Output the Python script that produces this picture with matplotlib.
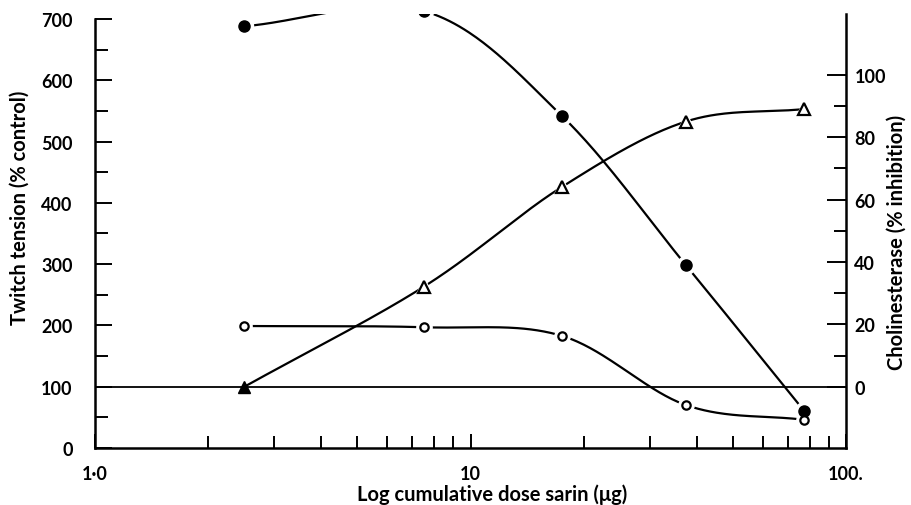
import numpy as np
import matplotlib
matplotlib.use("Agg")
import matplotlib.pyplot as plt
from matplotlib.ticker import FixedLocator, FixedFormatter, NullFormatter

plt.rcParams['font.family'] = ['Lato', 'DejaVu Sans']
plt.rcParams['font.weight'] = 'bold'

# ---- data ----
dose = [2.5, 7.5, 17.5, 37.5, 77.5]              # cumulative dose sarin (ug)
twitch_filled = [688, 713, 542, 298, 60]          # twitch tension, filled circles (% control)
twitch_open = [199, 197, 183, 70, 46]             # twitch tension, open circles (% control)
chol_inhib = [0, 32, 64, 85, 89]                  # cholinesterase (% inhibition), triangles
control_level = 100

x_tick_vals = [1, 10, 100]
x_tick_labels = ["1·0", "10", "100."]
left_ticks = [0, 100, 200, 300, 400, 500, 600, 700]
right_ticks = [0, 20, 40, 60, 80, 100]


def catmull_rom(xs, ys, n=60):
    P = np.column_stack([np.log10(np.asarray(xs, float)), np.asarray(ys, float)])
    pts = np.vstack([2 * P[0] - P[1], P, 2 * P[-1] - P[-2]])
    t = np.linspace(0, 1, n)[:, None]
    segs = []
    for i in range(1, len(pts) - 2):
        p0, p1, p2, p3 = pts[i - 1], pts[i], pts[i + 1], pts[i + 2]
        seg = 0.5 * (2 * p1 + (-p0 + p2) * t + (2 * p0 - 5 * p1 + 4 * p2 - p3) * t ** 2
                     + (-p0 + 3 * p1 - 3 * p2 + p3) * t ** 3)
        segs.append(seg if i == 1 else seg[1:])
    out = np.vstack(segs)
    return 10 ** out[:, 0], out[:, 1]


fig = plt.figure(figsize=(9.11, 5.06), dpi=100)
ax = fig.add_axes([95 / 911, (506 - 449) / 506, (846 - 95) / 911, (449 - 15) / 506])
ax.set_xscale('log')
ax.set_xlim(1, 100)
ax.set_ylim(0, 708)

# right axis scale: 0 % inhibition at the 100 % control line
px_per_left = 434 / 708.0
px_per_right = 3.12
r_zero_px = control_level * px_per_left
r_low = -r_zero_px / px_per_right
r_high = (434 - r_zero_px) / px_per_right
ax2 = ax.twinx()
ax2.set_ylim(r_low, r_high)

lw = 1.6
# control line
ax.plot([1, 100], [control_level, control_level], color='black', lw=1.3, zorder=2)

# curves
for ys_, a in [(twitch_filled, ax), (twitch_open, ax), (chol_inhib, ax2)]:
    sx, sy = catmull_rom(dose, ys_)
    a.plot(sx, sy, color='black', lw=lw, zorder=2, solid_capstyle='butt')

# white halos to make gaps near markers
ax.plot(dose, twitch_filled, ls='none', marker='o', ms=13, mfc='white', mec='white', zorder=3)
ax.plot(dose, twitch_open, ls='none', marker='o', ms=11, mfc='white', mec='white', zorder=3)
ax2.plot(dose[1:], chol_inhib[1:], ls='none', marker='^', ms=13, mfc='white', mec='white', zorder=3)

# markers
ax.plot(dose, twitch_filled, ls='none', marker='o', ms=8, mfc='black', mec='black', zorder=4)
ax.plot(dose, twitch_open, ls='none', marker='o', ms=6, mfc='white', mec='black', mew=1.6, zorder=4)
ax2.plot(dose[1:], chol_inhib[1:], ls='none', marker='^', ms=8, mfc='white', mec='black', mew=1.6, zorder=4)
ax2.plot(dose[:1], chol_inhib[:1], ls='none', marker='^', ms=9, mfc='black', mec='black', zorder=4)

# spines
for a in (ax, ax2):
    a.spines['top'].set_visible(False)
for s in ['left', 'bottom', 'right']:
    ax.spines[s].set_linewidth(1.8)
    ax2.spines[s].set_linewidth(1.8)
ax.spines['left'].set_bounds(0, 700)
ax.spines['right'].set_visible(False)
ax2.spines['left'].set_visible(False)
ax2.spines['bottom'].set_visible(False)

# x ticks
ax.xaxis.set_major_locator(FixedLocator(x_tick_vals))
ax.xaxis.set_major_formatter(FixedFormatter(x_tick_labels))
minor_x = [m * d for d in (1, 10) for m in range(2, 10)]
ax.xaxis.set_minor_locator(FixedLocator(minor_x))
ax.xaxis.set_minor_formatter(NullFormatter())
ax.tick_params(axis='x', which='major', direction='in', length=10, width=1.4, pad=12, labelsize=13)
ax.tick_params(axis='x', which='minor', direction='in', length=9, width=1.4)

# left y ticks
ax.yaxis.set_major_locator(FixedLocator(left_ticks))
ax.yaxis.set_minor_locator(FixedLocator([v + 50 for v in left_ticks[:-1]]))
ax.tick_params(axis='y', which='major', direction='in', length=12, width=1.4, pad=16, labelsize=13)
ax.tick_params(axis='y', which='minor', direction='in', length=9, width=1.4)
ax.tick_params(axis='y', which='both', right=False)

# right y ticks
ax2.yaxis.set_major_locator(FixedLocator(right_ticks))
ax2.yaxis.set_minor_locator(FixedLocator([v + 10 for v in right_ticks[:-1]]))
ax2.tick_params(axis='y', which='major', direction='in', length=14, width=1.4, pad=6, labelsize=13)
ax2.tick_params(axis='y', which='minor', direction='in', length=9, width=1.4)

for lab in ax.get_xticklabels() + ax.get_yticklabels() + ax2.get_yticklabels():
    lab.set_fontweight('bold')

# axis titles
fig.text(492 / 911, 1 - 495 / 506, 'Log cumulative dose sarin (μg)', fontsize=14.5,
         fontweight='bold', ha='center', va='center')
fig.text(20 / 911, 1 - 208 / 506, 'Twitch tension (% control)', fontsize=14.5,
         fontweight='bold', ha='center', va='center', rotation=90)
fig.text(897 / 911, 1 - 242 / 506, 'Cholinesterase (% inhibition)', fontsize=14.5,
         fontweight='bold', ha='center', va='center', rotation=90)

fig.savefig('out.png', dpi=100)
